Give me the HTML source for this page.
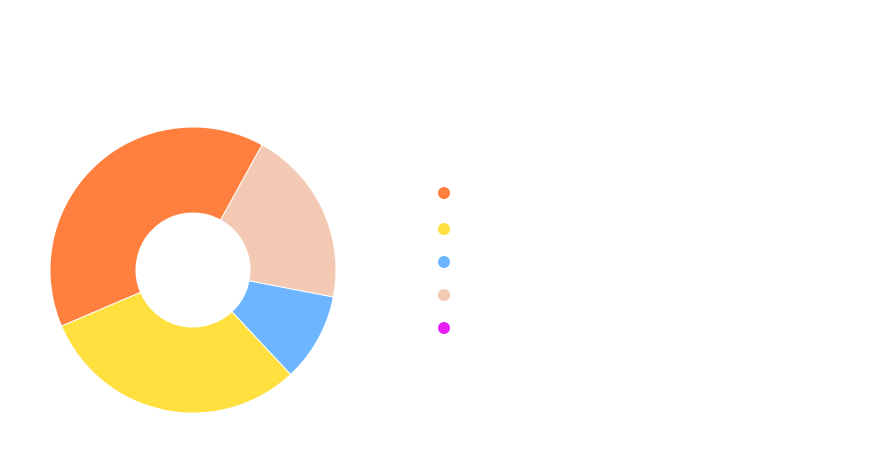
<!DOCTYPE html>
<html><head><meta charset="utf-8"><style>
html,body{margin:0;padding:0;background:#fff;width:886px;height:461px;overflow:hidden}
</style></head><body>
<svg id="chart" width="886" height="461" xmlns="http://www.w3.org/2000/svg">
<g id="slices"></g>
<g id="legend"></g>
</svg>
<script>
const categories = ['A','B','C','D','E'];
const values = [142, 110, 36, 72, 0];
const colors = ['#ff7f3f','#ffe03f','#6db6ff','#f3c9b4','#e91cf5'];
const startDeg = 28.9; // clockwise from top, slices go counterclockwise
const cx=193, cy=270, R=143, r=57;
const NS='http://www.w3.org/2000/svg';
const total = values.reduce((a,b)=>a+b,0);
function pt(deg, rad){const a=deg*Math.PI/180;return [cx+rad*Math.sin(a), cy-rad*Math.cos(a)];}
let cur = startDeg;
const sg=document.getElementById('slices');
values.forEach((v,i)=>{
  if(v<=0) return;
  const sweep = v/total*360;
  const a0=cur, a1=cur-sweep;
  const large = sweep>180?1:0;
  const p0=pt(a0,R), p1=pt(a1,R), p2=pt(a1,r), p3=pt(a0,r);
  const d=`M${p0[0]},${p0[1]} A${R},${R} 0 ${large} 0 ${p1[0]},${p1[1]} L${p2[0]},${p2[1]} A${r},${r} 0 ${large} 1 ${p3[0]},${p3[1]} Z`;
  const p=document.createElementNS(NS,'path');
  p.setAttribute('d',d);p.setAttribute('fill',colors[i]);
  p.setAttribute('stroke','#fff');p.setAttribute('stroke-width','1');p.setAttribute('stroke-linejoin','round');
  
  
  sg.appendChild(p);
  cur=a1;
});
const legendY=[193,229,262,295,328];
const lg=document.getElementById('legend');
categories.forEach((c,i)=>{
  const ci=document.createElementNS(NS,'circle');
  ci.setAttribute('cx',444);ci.setAttribute('cy',legendY[i]);ci.setAttribute('r',6);
  ci.setAttribute('fill',colors[i]);
  
  
  lg.appendChild(ci);
});
</script>
</body></html>
